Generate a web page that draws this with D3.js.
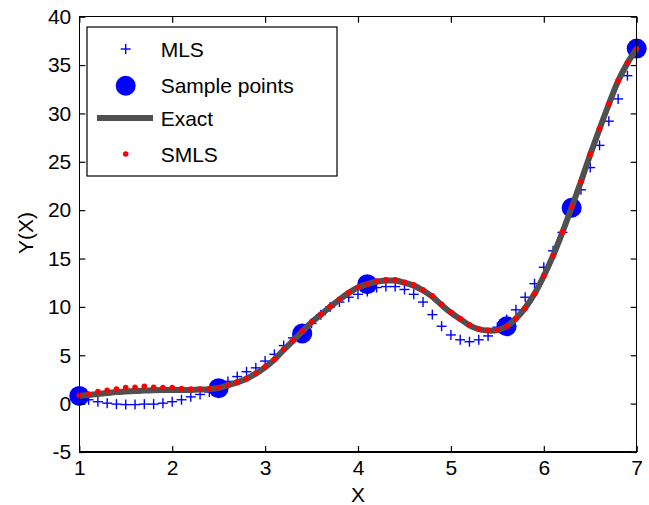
<!doctype html>
<html>

<head>
    <meta charset="utf-8">
    <title>MLS vs SMLS</title>
    <style>
    body {
        margin: 0;
        background: #fff;
        font-family: "Liberation Sans", Arial, sans-serif;
    }

    text {
        font-size: 21px;
        fill: #000;
    }

    .frame line {
        stroke: #000;
        stroke-width: 1.5px;
        shape-rendering: crispEdges;
    }

    .axis path {
        display: none;
    }

    .axis line {
        stroke: #000;
        stroke-width: 1.2px;
    }

    .exact {
        fill: none;
        stroke: #505050;
        stroke-width: 6px;
        stroke-linejoin: round;
    }

    .mls {
        stroke: #0000ff;
        stroke-width: 1.4px;
    }

    .sample {
        fill: #0000ff;
    }

    .smls {
        fill: #ff0000;
    }
    </style>
    <script src="https://cdn.jsdelivr.net/npm/d3@7"></script>
</head>

<body>
    <script>
    // x grid 1.0 : 0.1 : 7.0
    var xs = d3.range(61).map(function(i) { return +(1 + i / 10).toFixed(1); });

    var mlsValues = [0.7, 0.4, 0.2, 0.05, -0.05, -0.1, -0.1, -0.05, -0.05, 0.05,
        0.2, 0.4, 0.7, 0.95, 1.2, 1.7, 2.3, 2.8, 3.3, 3.7,
        4.4, 5.1, 6.0, 6.8, 7.5, 8.3, 9.2, 10.0, 10.5, 11.0,
        11.3, 11.6, 12.0, 12.1, 12.1, 11.8, 11.3, 10.5, 9.2, 8.0,
        7.1, 6.6, 6.4, 6.6, 7.0, 7.9, 8.7, 9.7, 11.0, 12.4,
        14.1, 15.8, 17.7, 19.9, 22.1, 24.4, 26.7, 29.2, 31.5, 33.9,
        36.4
    ];

    var smlsValues = [0.85, 1.0, 1.24, 1.38, 1.52, 1.65, 1.7, 1.8, 1.7, 1.67,
        1.65, 1.55, 1.52, 1.52, 1.55, 1.65, 1.92, 2.22, 2.58, 3.14,
        3.8, 4.59, 5.62, 6.53, 7.52, 8.45, 9.24, 10.03, 10.79, 11.48,
        12.03, 12.38, 12.66, 12.79, 12.79, 12.55, 12.28, 11.76, 11.14, 10.28,
        9.45, 8.79, 8.14, 7.72, 7.59, 7.62, 8.0, 8.8, 9.86, 11.34,
        13.21, 15.3, 17.73, 20.34, 22.96, 25.79, 28.41, 30.98, 33.38, 35.21,
        36.68
    ];

    var exactValues = [0.8, 0.9, 1.0, 1.1, 1.2, 1.25, 1.3, 1.35, 1.38, 1.4,
        1.42, 1.42, 1.42, 1.45, 1.5, 1.62, 1.9, 2.2, 2.58, 3.1,
        3.75, 4.55, 5.55, 6.5, 7.45, 8.4, 9.2, 10.0, 10.75, 11.45,
        12.0, 12.35, 12.6, 12.72, 12.72, 12.5, 12.2, 11.7, 11.05, 10.2,
        9.4, 8.75, 8.1, 7.7, 7.55, 7.6, 8.0, 8.8, 9.9, 11.35,
        13.2, 15.3, 17.7, 20.3, 22.95, 25.75, 28.4, 30.95, 33.35, 35.2,
        36.68
    ];

    var sampleX = [1, 2.5, 3.4, 4.1, 5.6, 6.3, 7];
    var sampleY = [0.8, 1.6, 7.25, 12.35, 8.0, 20.25, 36.7];

    var xTicks = [1, 2, 3, 4, 5, 6, 7];
    var yTicks = [-5, 0, 5, 10, 15, 20, 25, 30, 35, 40];

    var legendLabels = ["MLS", "Sample points", "Exact", "SMLS"];

    var W = 649,
        H = 505;
    var pLeft = 79.3,
        pRight = 636.7,
        pTop = 16.7,
        pBottom = 452;

    var x = d3.scaleLinear().domain([1, 7]).range([pLeft, pRight]);
    var y = d3.scaleLinear().domain([-5, 40]).range([pBottom, pTop]);

    var svg = d3.select("body").append("svg")
        .attr("width", W)
        .attr("height", H);

    var mls = xs.map(function(d, i) { return [d, mlsValues[i]]; });
    var smls = xs.map(function(d, i) { return [d, smlsValues[i]]; });
    var exact = xs.map(function(d, i) { return [d, exactValues[i]]; });
    var samples = sampleX.map(function(d, i) { return [d, sampleY[i]]; });

    var plot = svg.append("g");

    // MLS: plus markers
    var s = 5;
    var plus = plot.selectAll(".mls")
        .data(mls)
        .enter().append("g")
        .attr("class", "mls")
        .attr("transform", function(d) { return "translate(" + x(d[0]) + "," + y(d[1]) + ")"; });
    plus.append("line").attr("x1", -s).attr("x2", s);
    plus.append("line").attr("y1", -s).attr("y2", s);

    // sample points
    plot.selectAll(".sample")
        .data(samples)
        .enter().append("circle")
        .attr("class", "sample")
        .attr("cx", function(d) { return x(d[0]); })
        .attr("cy", function(d) { return y(d[1]); })
        .attr("r", 10);

    // exact
    var line = d3.line()
        .curve(d3.curveCatmullRom)
        .x(function(d) { return x(d[0]); })
        .y(function(d) { return y(d[1]); });

    plot.append("path")
        .datum(exact)
        .attr("class", "exact")
        .attr("d", line);

    // SMLS
    plot.selectAll(".smls")
        .data(smls)
        .enter().append("circle")
        .attr("class", "smls")
        .attr("cx", function(d) { return x(d[0]); })
        .attr("cy", function(d) { return y(d[1]); })
        .attr("r", 2.8);

    // axes, ticks inside on all four sides (plain hyphen for negatives)
    var fmt = function(d) { return String(d); };
    var tk = 6;
    svg.append("g").attr("class", "axis")
        .attr("transform", "translate(0," + pBottom + ")")
        .call(d3.axisBottom(x).tickValues(xTicks).tickSize(-tk).tickPadding(8).tickFormat(fmt));

    svg.append("g").attr("class", "axis")
        .attr("transform", "translate(0," + pTop + ")")
        .call(d3.axisTop(x).tickValues(xTicks).tickSize(-tk).tickFormat(""));

    svg.append("g").attr("class", "axis")
        .attr("transform", "translate(" + pLeft + ",0)")
        .call(d3.axisLeft(y).tickValues(yTicks).tickSize(-tk).tickPadding(tk + 2).tickFormat(fmt));

    svg.append("g").attr("class", "axis")
        .attr("transform", "translate(" + pRight + ",0)")
        .call(d3.axisRight(y).tickValues(yTicks).tickSize(-tk).tickFormat(""));

    svg.selectAll(".axis").attr("font-size", null).attr("font-family", null);
    svg.selectAll(".axis text").attr("fill", "#000");

    var frame = svg.append("g").attr("class", "frame");
    frame.append("line").attr("x1", pLeft).attr("x2", pRight).attr("y1", pTop).attr("y2", pTop);
    frame.append("line").attr("x1", pLeft).attr("x2", pRight).attr("y1", pBottom).attr("y2", pBottom);
    frame.append("line").attr("x1", pLeft).attr("x2", pLeft).attr("y1", pTop).attr("y2", pBottom);
    frame.append("line").attr("x1", pRight).attr("x2", pRight).attr("y1", pTop).attr("y2", pBottom);

    // axis labels
    svg.append("text")
        .attr("x", (pLeft + pRight) / 2)
        .attr("y", 502)
        .attr("text-anchor", "middle")
        .text("X");

    svg.append("text")
        .attr("transform", "translate(33," + 233 + ") rotate(-90)")
        .attr("text-anchor", "middle")
        .text("Y(X)");

    // legend
    var lg = svg.append("g").attr("transform", "translate(87,27)");
    lg.append("rect")
        .attr("width", 250)
        .attr("height", 149)
        .attr("fill", "#fff")
        .attr("stroke", "#000")
        .attr("stroke-width", 1.2);

    var rowY = [22, 58.7, 91, 127];
    var mx = 38.7;

    var lp = lg.append("g").attr("class", "mls").attr("transform", "translate(" + mx + "," + rowY[0] + ")");
    lp.append("line").attr("x1", -s).attr("x2", s);
    lp.append("line").attr("y1", -s).attr("y2", s);

    lg.append("circle").attr("class", "sample").attr("cx", mx).attr("cy", rowY[1]).attr("r", 10);

    lg.append("line")
        .attr("x1", 10).attr("x2", 66)
        .attr("y1", rowY[2]).attr("y2", rowY[2])
        .attr("stroke", "#505050").attr("stroke-width", 6);

    lg.append("circle").attr("class", "smls").attr("cx", mx).attr("cy", rowY[3]).attr("r", 2.8);

    lg.selectAll(".lbl")
        .data(legendLabels)
        .enter().append("text")
        .attr("class", "lbl")
        .attr("x", 73.7)
        .attr("y", function(d, i) { return rowY[i]; })
        .attr("dy", "0.36em")
        .text(function(d) { return d; });
    </script>
</body>

</html>
